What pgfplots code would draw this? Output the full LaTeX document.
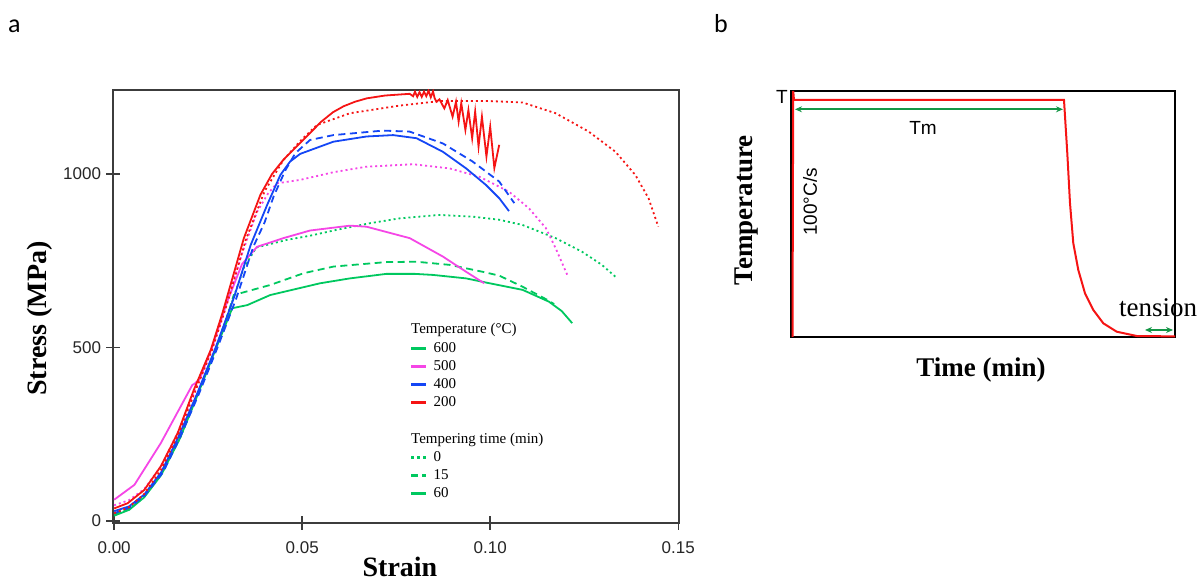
\documentclass[border=0pt]{standalone}
\usepackage{pgfplots}
\pgfplotsset{compat=1.18}
\usepackage{fontspec}
\setmainfont{Liberation Serif}
\newfontfamily\arialf{Liberation Sans}
\newfontfamily\calib{Carlito}
\usetikzlibrary{arrows.meta}
\definecolor{cgreen}{RGB}{0,200,95}
\definecolor{cpink}{RGB}{245,70,230}
\definecolor{cblue}{RGB}{20,70,245}
\definecolor{cred}{RGB}{245,20,20}
\definecolor{agreen}{RGB}{20,150,70}
\definecolor{frame}{RGB}{60,60,60}
\tikzset{
  dotl/.style={dash pattern=on 2pt off 3pt},
  dashl/.style={dash pattern=on 7pt off 4.5pt},
}
\begin{document}
\begin{tikzpicture}[x=1pt,y=1pt]
\useasboundingbox (0,0) rectangle (1200,581);
\node[anchor=base west, inner sep=0pt, font=\calib\fontsize{26}{26}\selectfont] at (8,548) {a};
\node[anchor=base west, inner sep=0pt, font=\calib\fontsize{26}{26}\selectfont] at (714,548) {b};
\begin{axis}[
  at={(113pt,58pt)}, anchor=south west, scale only axis,
  width=566pt, height=433pt,
  xmin=-0.0003, xmax=0.1502, ymin=-6, ymax=1242,
  xtick={0,0.05,0.1,0.15}, xticklabels={0.00,0.05,0.10,0.15},
  ytick={0,500,1000}, yticklabels={0,500,1000},
  xtick pos=bottom, ytick pos=left,
  tick align=center, major tick length=13pt,
  tick style={frame, line width=1.5pt},
  axis line style={frame, line width=1.5pt},
  ticklabel style={font=\arialf\fontsize{17}{17}\selectfont, text=black!85},
  xticklabel style={yshift=-9pt},
  yticklabel style={xshift=-2pt},
  xlabel={Strain}, ylabel={Stress (MPa)},
  label style={font=\bfseries\fontsize{28}{28}\selectfont, inner sep=0pt},
  xlabel style={at={(axis description cs:0.507,-0.1247)}, anchor=base},
  ylabel style={at={(axis description cs:-0.129,0.472)}, anchor=center},
  legend image code/.code={\draw[#1] (0pt,0pt) -- (15pt,0pt);},
  legend cell align=left,
  legend style={at={(axis description cs:0.5247,0.462)}, anchor=north west,
    draw=none, fill=none, inner sep=0pt, outer sep=0pt,
    font=\fontsize{15}{15}\selectfont, row sep=4.2pt, column sep=5.7pt,
    nodes={inner sep=0pt, text height=11pt, text depth=3pt}},
]
% 600 C
\addplot[cgreen, line width=1.8pt, dotl, forget plot] coordinates {(0.0000,20)(0.0040,35)(0.0080,70)(0.0125,135)(0.0175,238)(0.0220,358)(0.0270,495)(0.0310,620)(0.0345,730)(0.0378,788)(0.0459,810)(0.0521,822)(0.0592,839)(0.0680,858)(0.0759,872)(0.0865,882)(0.0953,877)(0.1024,868)(0.1086,853)(0.1174,815)(0.1244,776)(0.1297,738)(0.1337,700)};
\addplot[cgreen, line width=1.8pt, dashl, forget plot] coordinates {(0.0000,18)(0.0040,34)(0.0080,70)(0.0125,135)(0.0175,240)(0.0220,360)(0.0270,495)(0.0300,585)(0.0318,651)(0.0415,680)(0.0504,714)(0.0583,733)(0.0636,738)(0.0724,746)(0.0804,747)(0.0892,738)(0.0980,718)(0.1024,707)(0.1086,675)(0.1152,637)(0.1170,625)};
\addplot[cgreen, line width=1.8pt, forget plot] coordinates {(0.0000,15)(0.0040,32)(0.0080,68)(0.0125,132)(0.0175,238)(0.0220,358)(0.0270,495)(0.0314,613)(0.0354,622)(0.0415,651)(0.0548,685)(0.0627,699)(0.0724,712)(0.0800,712)(0.0848,709)(0.0936,699)(0.0998,685)(0.1086,666)(0.1156,632)(0.1190,605)(0.1218,570)};
% 500 C
\addplot[cpink, line width=1.8pt, dotl, forget plot] coordinates {(0.0000,45)(0.0040,60)(0.0080,92)(0.0125,158)(0.0170,256)(0.0215,378)(0.0260,495)(0.0300,630)(0.0340,770)(0.0380,891)(0.0410,945)(0.0433,973)(0.0495,983)(0.0583,1005)(0.0671,1021)(0.0795,1028)(0.0892,1016)(0.0971,992)(0.1050,949)(0.1103,901)(0.1148,844)(0.1174,786)(0.1205,709)};
\addplot[cpink, line width=1.8pt, forget plot] coordinates {(0.0000,61)(0.0054,104)(0.0124,224)(0.0208,392)(0.0215,396)(0.0228,410)(0.0260,500)(0.0300,630)(0.0340,740)(0.0380,790)(0.0450,815)(0.0521,837)(0.0627,851)(0.0671,848)(0.0786,815)(0.0874,762)(0.0936,718)(0.0984,685)};
% 400 C
\addplot[cblue, line width=1.8pt, dashl, forget plot] coordinates {(0.0000,22)(0.0040,38)(0.0080,72)(0.0130,140)(0.0175,240)(0.0225,365)(0.0275,500)(0.0325,642)(0.0370,790)(0.0400,860)(0.0424,935)(0.0455,1010)(0.0482,1060)(0.0521,1098)(0.0583,1112)(0.0715,1125)(0.0786,1122)(0.0874,1088)(0.0953,1036)(0.1024,978)(0.1064,916)};
\addplot[cblue, line width=1.8pt, forget plot] coordinates {(0.0000,28)(0.0040,42)(0.0080,76)(0.0125,140)(0.0170,240)(0.0220,365)(0.0270,500)(0.0318,642)(0.0363,795)(0.0407,911)(0.0442,997)(0.0468,1036)(0.0495,1058)(0.0583,1093)(0.0671,1108)(0.0742,1112)(0.0804,1103)(0.0874,1064)(0.0936,1016)(0.0989,968)(0.1024,930)(0.1050,893)};
% 200 C
\addplot[cred, line width=1.8pt, dotl, forget plot] coordinates {(0.0000,22)(0.0040,40)(0.0080,78)(0.0125,148)(0.0170,248)(0.0215,372)(0.0260,492)(0.0300,625)(0.0350,810)(0.0400,950)(0.0450,1040)(0.0495,1095)(0.0539,1141)(0.0627,1175)(0.0759,1197)(0.0865,1210)(0.1000,1210)(0.1086,1206)(0.1174,1175)(0.1262,1122)(0.1333,1064)(0.1386,997)(0.1421,930)(0.1447,848)};
\addplot[cred, line width=1.8pt, forget plot] coordinates {(0.0000,36)(0.0036,51)(0.0080,89)(0.0124,157)(0.0169,253)(0.0212,378)(0.0257,493)(0.0288,599)(0.0320,720)(0.0345,815)(0.0389,940)(0.0420,1000)(0.0451,1042)(0.0475,1068)(0.0495,1090)(0.0521,1118)(0.0550,1150)(0.0582,1178)(0.0610,1195)(0.0640,1208)(0.0672,1218)(0.0720,1226)(0.0759,1229)(0.0786,1231)(0.0795,1224)(0.0800,1237)(0.0806,1222)(0.0812,1236)(0.0818,1222)(0.0824,1237)(0.0830,1224)(0.0836,1240)(0.0842,1221)(0.0848,1238)(0.0852,1219)(0.0857,1208)(0.0865,1215)(0.0878,1189)(0.0887,1213)(0.0900,1165)(0.0909,1208)(0.0916,1151)(0.0923,1204)(0.0934,1127)(0.0942,1184)(0.0952,1103)(0.0960,1180)(0.0969,1079)(0.0978,1165)(0.0990,1050)(0.1000,1136)(0.1011,1017)(0.1024,1084)};
% legend
\addlegendimage{empty legend}
\addlegendentry{\hspace*{-22.5pt}Temperature (°C)}
\addlegendimage{cgreen, line width=3pt}
\addlegendentry{600}
\addlegendimage{cpink, line width=3pt}
\addlegendentry{500}
\addlegendimage{cblue, line width=3pt}
\addlegendentry{400}
\addlegendimage{cred, line width=3pt}
\addlegendentry{200}
\addlegendimage{empty legend}
\addlegendentry{\mbox{}}
\addlegendimage{empty legend}
\addlegendentry{\hspace*{-22.5pt}Tempering time (min)}
\addlegendimage{cgreen, line width=3pt, dash pattern=on 3pt off 3pt}
\addlegendentry{0}
\addlegendimage{cgreen, line width=3pt, dash pattern=on 7pt off 4pt}
\addlegendentry{15}
\addlegendimage{cgreen, line width=3pt}
\addlegendentry{60}
\end{axis}
\begin{axis}[
  at={(791pt,244pt)}, anchor=south west, scale only axis,
  width=384pt, height=246pt,
  xmin=0, xmax=384, ymin=0, ymax=246,
  xtick=\empty, ytick=\empty, clip=false,
  axis line style={black, line width=2pt},
  xlabel={Time (min)}, ylabel={Temperature},
  label style={font=\bfseries\fontsize{27}{27}\selectfont},
  xlabel style={at={(axis description cs:0.495,-0.134)}, anchor=center},
  ylabel style={at={(axis description cs:-0.117,0.516)}, anchor=center},
]
\addplot[cred, line width=2pt] coordinates {(1.5,0)(2.2,246)(3,237)(273,237)(276.3,183.7)(279,133.7)(282.3,93.7)(287.3,67)(294,43.7)(302.3,27)(312.3,13.7)(325.7,5.3)(345.7,1)(384,0.6)};
\addplot[agreen, line width=1.8pt, {Stealth[length=7pt,width=6pt]}-{Stealth[length=7pt,width=6pt]}] coordinates {(4,227.7)(272,227.7)};
\addplot[agreen, line width=1.8pt, {Stealth[length=7pt,width=6pt]}-{Stealth[length=7pt,width=6pt]}] coordinates {(354,7)(382,7)};
\node[anchor=east, inner sep=0pt, font=\arialf\fontsize{19}{19}\selectfont] at (axis cs:-3,240) {T};
\node[font=\arialf\fontsize{19}{19}\selectfont] at (axis cs:132,209) {Tm};
\node[rotate=90, font=\arialf\fontsize{19}{19}\selectfont] at (axis cs:19,135) {100°C/s};
\node[font=\fontsize{27}{27}\selectfont] at (axis cs:367,29) {tension};
\end{axis}
\end{tikzpicture}
\end{document}
